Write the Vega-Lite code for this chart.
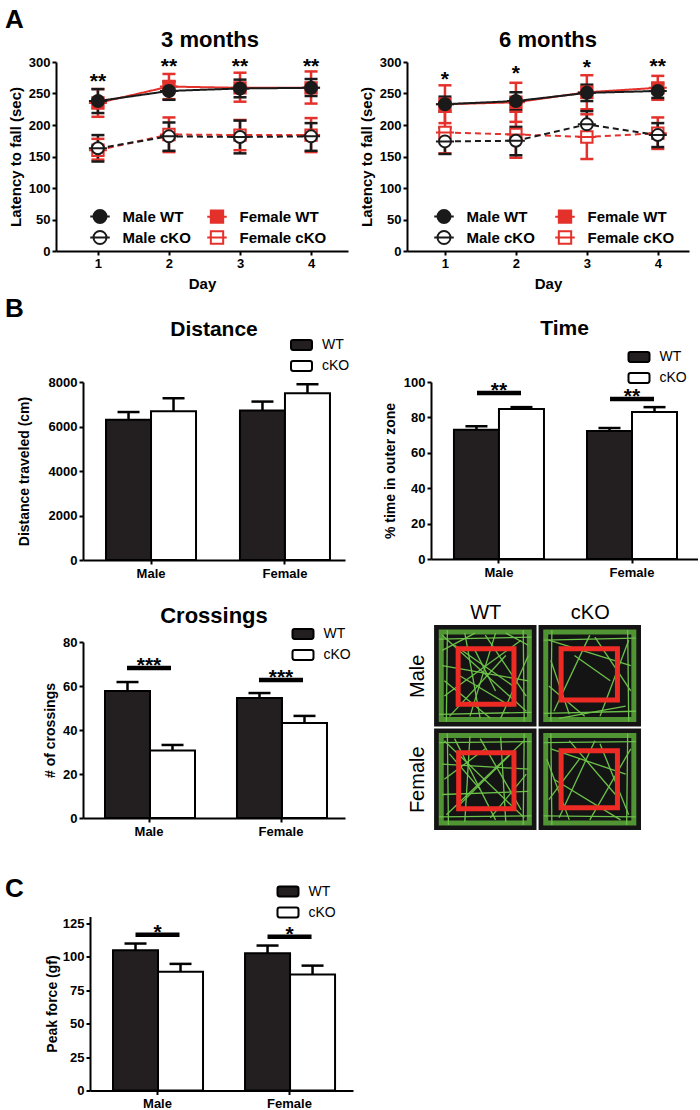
{
  "$schema": "https://vega.github.io/schema/vega-lite/v6.json",
  "padding": {"left": 5, "top": 6, "right": 0, "bottom": 0},
  "background": "white",
  "config": {
    "font": "Liberation Sans",
    "view": {"stroke": null},
    "axis": {"grid": false, "domainColor": "#000", "domainWidth": 2, "tickColor": "#000", "tickWidth": 2, "tickSize": 4, "tickCount": 20, "labelColor": "#000", "labelFont": "Liberation Sans", "labelFontWeight": "bold", "labelFontSize": 13, "labelPadding": 2, "titleColor": "#000", "titleFont": "Liberation Sans", "titleFontWeight": "bold", "titleFontSize": 14, "titlePadding": 6},
    "title": {"font": "Liberation Sans", "fontWeight": "bold", "color": "#000", "fontSize": 21},
    "legend": {"labelFont": "Liberation Sans", "labelColor": "#000"}
  },
  "datasets": {
    "rotarod": [
      {"age": "3 months", "group": "Female WT", "day": 1, "mean": 235, "lo": 213, "hi": 257},
      {"age": "3 months", "group": "Female WT", "day": 2, "mean": 261, "lo": 241, "hi": 281},
      {"age": "3 months", "group": "Female WT", "day": 3, "mean": 259, "lo": 237, "hi": 283},
      {"age": "3 months", "group": "Female WT", "day": 4, "mean": 259, "lo": 234, "hi": 285},
      {"age": "3 months", "group": "Female cKO", "day": 1, "mean": 160, "lo": 145, "hi": 178},
      {"age": "3 months", "group": "Female cKO", "day": 2, "mean": 185, "lo": 157, "hi": 212},
      {"age": "3 months", "group": "Female cKO", "day": 3, "mean": 184, "lo": 160, "hi": 208},
      {"age": "3 months", "group": "Female cKO", "day": 4, "mean": 184, "lo": 157, "hi": 211},
      {"age": "3 months", "group": "Male WT", "day": 1, "mean": 238, "lo": 219, "hi": 257},
      {"age": "3 months", "group": "Male WT", "day": 2, "mean": 254, "lo": 240, "hi": 269},
      {"age": "3 months", "group": "Male WT", "day": 3, "mean": 258, "lo": 244, "hi": 272},
      {"age": "3 months", "group": "Male WT", "day": 4, "mean": 259, "lo": 246, "hi": 273},
      {"age": "3 months", "group": "Male cKO", "day": 1, "mean": 163, "lo": 142, "hi": 184},
      {"age": "3 months", "group": "Male cKO", "day": 2, "mean": 182, "lo": 159, "hi": 204},
      {"age": "3 months", "group": "Male cKO", "day": 3, "mean": 181, "lo": 155, "hi": 207},
      {"age": "3 months", "group": "Male cKO", "day": 4, "mean": 182, "lo": 159, "hi": 203},
      {"age": "6 months", "group": "Female WT", "day": 1, "mean": 233, "lo": 203, "hi": 263},
      {"age": "6 months", "group": "Female WT", "day": 2, "mean": 236, "lo": 205, "hi": 267},
      {"age": "6 months", "group": "Female WT", "day": 3, "mean": 252, "lo": 225, "hi": 279},
      {"age": "6 months", "group": "Female WT", "day": 4, "mean": 259, "lo": 240, "hi": 278},
      {"age": "6 months", "group": "Female cKO", "day": 1, "mean": 188, "lo": 155, "hi": 221},
      {"age": "6 months", "group": "Female cKO", "day": 2, "mean": 185, "lo": 148, "hi": 221},
      {"age": "6 months", "group": "Female cKO", "day": 3, "mean": 181, "lo": 146, "hi": 217},
      {"age": "6 months", "group": "Female cKO", "day": 4, "mean": 187, "lo": 162, "hi": 212},
      {"age": "6 months", "group": "Male WT", "day": 1, "mean": 233, "lo": 221, "hi": 245},
      {"age": "6 months", "group": "Male WT", "day": 2, "mean": 238, "lo": 224, "hi": 252},
      {"age": "6 months", "group": "Male WT", "day": 3, "mean": 251, "lo": 238, "hi": 264},
      {"age": "6 months", "group": "Male WT", "day": 4, "mean": 254, "lo": 243, "hi": 266},
      {"age": "6 months", "group": "Male cKO", "day": 1, "mean": 174, "lo": 154, "hi": 196},
      {"age": "6 months", "group": "Male cKO", "day": 2, "mean": 175, "lo": 152, "hi": 197},
      {"age": "6 months", "group": "Male cKO", "day": 3, "mean": 201, "lo": 181, "hi": 222},
      {"age": "6 months", "group": "Male cKO", "day": 4, "mean": 184, "lo": 165, "hi": 203}
    ],
    "stars": [
      {"age": "3 months", "day": 1, "y": 277, "label": "**"},
      {"age": "3 months", "day": 2, "y": 301, "label": "**"},
      {"age": "3 months", "day": 3, "y": 301, "label": "**"},
      {"age": "3 months", "day": 4, "y": 301, "label": "**"},
      {"age": "6 months", "day": 1, "y": 281, "label": "*"},
      {"age": "6 months", "day": 2, "y": 290, "label": "*"},
      {"age": "6 months", "day": 3, "y": 300, "label": "*"},
      {"age": "6 months", "day": 4, "y": 302, "label": "**"}
    ],
    "dist": [
      {"sex": "Male", "genotype": "WT", "mean": 6300, "upper": 6650},
      {"sex": "Male", "genotype": "cKO", "mean": 6680, "upper": 7270},
      {"sex": "Female", "genotype": "WT", "mean": 6720, "upper": 7120},
      {"sex": "Female", "genotype": "cKO", "mean": 7500, "upper": 7900}
    ],
    "time": [
      {"sex": "Male", "genotype": "WT", "mean": 73, "upper": 75},
      {"sex": "Male", "genotype": "cKO", "mean": 84.8, "upper": 85.8},
      {"sex": "Female", "genotype": "WT", "mean": 72.3, "upper": 74},
      {"sex": "Female", "genotype": "cKO", "mean": 83, "upper": 85.8}
    ],
    "cross": [
      {"sex": "Male", "genotype": "WT", "mean": 57.7, "upper": 61.8},
      {"sex": "Male", "genotype": "cKO", "mean": 30.7, "upper": 33.2},
      {"sex": "Female", "genotype": "WT", "mean": 54.6, "upper": 56.8},
      {"sex": "Female", "genotype": "cKO", "mean": 43.2, "upper": 46.4}
    ],
    "peak": [
      {"sex": "Male", "genotype": "WT", "mean": 104.7, "upper": 109.8},
      {"sex": "Male", "genotype": "cKO", "mean": 88.8, "upper": 94.6},
      {"sex": "Female", "genotype": "WT", "mean": 102.6, "upper": 108.3},
      {"sex": "Female", "genotype": "cKO", "mean": 86.6, "upper": 93.3}
    ],
    "sig_time": [
      {"sex": "Male", "y": 93.8, "label": "**"},
      {"sex": "Female", "y": 90.4, "label": "**"}
    ],
    "sig_cross": [
      {"sex": "Male", "y": 68.2, "label": "***"},
      {"sex": "Female", "y": 62.7, "label": "***"}
    ],
    "sig_peak": [
      {"sex": "Male", "y": 116.4, "label": "*"},
      {"sex": "Female", "y": 114.9, "label": "*"}
    ],
    "cells": [
      {"x0": 0, "x1": 1, "y0": 0, "y1": 1},
      {"x0": 1.02, "x1": 2.02, "y0": 0, "y1": 1},
      {"x0": 0, "x1": 1, "y0": 1.02, "y1": 2.02},
      {"x0": 1.02, "x1": 2.02, "y0": 1.02, "y1": 2.02}
    ],
    "perim": [
      {"x0": 0.07, "x1": 0.93, "y0": 0.07, "y1": 0.93},
      {"x0": 1.09, "x1": 1.95, "y0": 0.07, "y1": 0.93},
      {"x0": 0.07, "x1": 0.93, "y0": 1.09, "y1": 1.95},
      {"x0": 1.09, "x1": 1.95, "y0": 1.09, "y1": 1.95}
    ],
    "zones": [
      {"x0": 0.235, "x1": 0.78, "y0": 0.235, "y1": 0.78},
      {"x0": 1.24, "x1": 1.79, "y0": 0.235, "y1": 0.74},
      {"x0": 0.24, "x1": 0.78, "y0": 1.26, "y1": 1.81},
      {"x0": 1.24, "x1": 1.79, "y0": 1.24, "y1": 1.8}
    ],
    "tracks": [
      {"x0": 0.08, "y0": 0.10, "x1": 0.90, "y1": 0.85},
      {"x0": 0.10, "y0": 0.70, "x1": 0.85, "y1": 0.15},
      {"x0": 0.30, "y0": 0.08, "x1": 0.45, "y1": 0.92},
      {"x0": 0.60, "y0": 0.08, "x1": 0.35, "y1": 0.90},
      {"x0": 0.08, "y0": 0.40, "x1": 0.92, "y1": 0.55},
      {"x0": 0.15, "y0": 0.90, "x1": 0.70, "y1": 0.30},
      {"x0": 0.20, "y0": 0.20, "x1": 0.80, "y1": 0.62},
      {"x0": 0.50, "y0": 0.10, "x1": 0.90, "y1": 0.70},
      {"x0": 0.10, "y0": 0.55, "x1": 0.55, "y1": 0.92},
      {"x0": 0.65, "y0": 0.92, "x1": 0.92, "y1": 0.30},
      {"x0": 0.25, "y0": 0.50, "x1": 0.75, "y1": 0.80},
      {"x0": 0.40, "y0": 0.25, "x1": 0.60, "y1": 0.65},
      {"x0": 0.08, "y0": 0.25, "x1": 0.40, "y1": 0.08},
      {"x0": 0.70, "y0": 0.08, "x1": 0.92, "y1": 0.20},
      {"x0": 0.05, "y0": 0.14, "x1": 0.95, "y1": 0.12},
      {"x0": 0.05, "y0": 0.88, "x1": 0.95, "y1": 0.86},
      {"x0": 0.13, "y0": 0.05, "x1": 0.12, "y1": 0.95},
      {"x0": 0.87, "y0": 0.05, "x1": 0.88, "y1": 0.95},
      {"x0": 1.12, "y0": 0.15, "x1": 1.92, "y1": 0.40},
      {"x0": 1.17, "y0": 0.85, "x1": 1.52, "y1": 0.10},
      {"x0": 1.62, "y0": 0.90, "x1": 1.90, "y1": 0.15},
      {"x0": 1.12, "y0": 0.60, "x1": 1.47, "y1": 0.90},
      {"x0": 1.37, "y0": 0.30, "x1": 1.72, "y1": 0.55},
      {"x0": 1.14, "y0": 0.35, "x1": 1.32, "y1": 0.88},
      {"x0": 1.57, "y0": 0.12, "x1": 1.92, "y1": 0.65},
      {"x0": 1.22, "y0": 0.92, "x1": 1.87, "y1": 0.80},
      {"x0": 1.07, "y0": 0.15, "x1": 1.97, "y1": 0.13},
      {"x0": 1.07, "y0": 0.87, "x1": 1.97, "y1": 0.85},
      {"x0": 1.15, "y0": 0.05, "x1": 1.14, "y1": 0.95},
      {"x0": 1.89, "y0": 0.05, "x1": 1.90, "y1": 0.95},
      {"x0": 0.10, "y0": 1.14, "x1": 0.88, "y1": 1.90},
      {"x0": 0.12, "y0": 1.87, "x1": 0.88, "y1": 1.14},
      {"x0": 0.35, "y0": 1.10, "x1": 0.30, "y1": 1.94},
      {"x0": 0.65, "y0": 1.10, "x1": 0.70, "y1": 1.94},
      {"x0": 0.08, "y0": 1.37, "x1": 0.92, "y1": 1.42},
      {"x0": 0.08, "y0": 1.67, "x1": 0.92, "y1": 1.64},
      {"x0": 0.20, "y0": 1.12, "x1": 0.60, "y1": 1.92},
      {"x0": 0.45, "y0": 1.12, "x1": 0.85, "y1": 1.82},
      {"x0": 0.10, "y0": 1.52, "x1": 0.50, "y1": 1.22},
      {"x0": 0.55, "y0": 1.90, "x1": 0.90, "y1": 1.47},
      {"x0": 0.25, "y0": 1.77, "x1": 0.75, "y1": 1.27},
      {"x0": 0.15, "y0": 1.27, "x1": 0.45, "y1": 1.62},
      {"x0": 0.05, "y0": 1.16, "x1": 0.95, "y1": 1.15},
      {"x0": 0.05, "y0": 1.89, "x1": 0.95, "y1": 1.88},
      {"x0": 0.13, "y0": 1.07, "x1": 0.14, "y1": 1.97},
      {"x0": 0.88, "y0": 1.07, "x1": 0.87, "y1": 1.97},
      {"x0": 1.14, "y0": 1.22, "x1": 1.87, "y1": 1.47},
      {"x0": 1.22, "y0": 1.90, "x1": 1.57, "y1": 1.14},
      {"x0": 1.52, "y0": 1.92, "x1": 1.92, "y1": 1.22},
      {"x0": 1.12, "y0": 1.72, "x1": 1.42, "y1": 1.32},
      {"x0": 1.62, "y0": 1.17, "x1": 1.90, "y1": 1.87},
      {"x0": 1.17, "y0": 1.52, "x1": 1.82, "y1": 1.92},
      {"x0": 1.32, "y0": 1.14, "x1": 1.77, "y1": 1.67},
      {"x0": 1.10, "y0": 1.32, "x1": 1.32, "y1": 1.92},
      {"x0": 1.07, "y0": 1.16, "x1": 1.97, "y1": 1.15},
      {"x0": 1.07, "y0": 1.88, "x1": 1.97, "y1": 1.89},
      {"x0": 1.14, "y0": 1.07, "x1": 1.15, "y1": 1.97},
      {"x0": 1.89, "y0": 1.07, "x1": 1.88, "y1": 1.97}
    ]
  },
  "spacing": 37.5,
  "resolve": {"scale": {"color": "independent", "fill": "independent", "stroke": "independent", "shape": "independent", "strokeDash": "independent"}, "legend": {"color": "independent", "fill": "independent", "stroke": "independent", "shape": "independent", "strokeDash": "independent"}},
  "vconcat": [
    {
      "spacing": 4,
      "resolve": {"scale": {"color": "independent", "fill": "independent", "stroke": "independent", "shape": "independent", "strokeDash": "independent"}, "legend": {"color": "independent", "fill": "independent", "stroke": "independent", "shape": "independent", "strokeDash": "independent"}},
      "vconcat": [
        {
          "spacing": -16,
          "resolve": {"scale": {"color": "independent", "fill": "independent", "stroke": "independent", "shape": "independent", "strokeDash": "independent"}, "legend": {"color": "independent", "fill": "independent", "stroke": "independent", "shape": "independent", "strokeDash": "independent"}},
          "hconcat": [
            {
              "width": 1, "height": 1,
              "title": {"text": "A", "anchor": "start", "fontSize": 26, "offset": 29.5},
              "data": {"values": []},
              "mark": "point"
            },
            {
              "spacing": 11,
              "resolve": {"scale": {"color": "independent", "fill": "independent", "stroke": "independent", "shape": "independent", "strokeDash": "independent"}, "legend": {"color": "independent", "fill": "independent", "stroke": "independent", "shape": "independent", "strokeDash": "independent"}},
              "hconcat": [
                {
                  "width": 292, "height": 189,
                  "title": {"text": "3 months", "fontSize": 22, "offset": 4, "dx": 8},
                  "layer": [
                    {
                      "data": {"name": "rotarod"}, "transform": [{"filter": "datum.age == '3 months'"}],
                      "mark": {"type": "rule", "strokeWidth": 2.5},
                      "encoding": {
                        "x": {"field": "day", "type": "quantitative", "scale": {"domain": [0.41, 4.52], "nice": false, "zero": false}, "axis": {"values": [1, 2, 3, 4], "format": "d", "title": "Day", "titleFontSize": 15}},
                        "y": {"field": "lo", "type": "quantitative", "scale": {"domain": [0, 300], "nice": false}, "axis": {"values": [0, 50, 100, 150, 200, 250, 300], "format": "d", "title": "Latency to fall (sec)", "titleFontSize": 15, "titlePadding": 5}},
                        "y2": {"field": "hi"},
                        "color": {"field": "group", "type": "nominal", "scale": {"domain": ["Female WT", "Male WT", "Female cKO", "Male cKO"], "range": ["#e4312b", "#1a1a1a", "#e4312b", "#1a1a1a"]}, "legend": null}
                      }
                    },
                    {
                      "data": {"name": "rotarod"}, "transform": [{"filter": "datum.age == '3 months'"}],
                      "mark": {"type": "point", "shape": "M-1,0L1,0", "size": 169, "strokeWidth": 2.5, "opacity": 1, "filled": false},
                      "encoding": {
                        "x": {"field": "day", "type": "quantitative"},
                        "y": {"field": "lo", "type": "quantitative"},
                        "color": {"field": "group", "type": "nominal", "legend": null}
                      }
                    },
                    {
                      "data": {"name": "rotarod"}, "transform": [{"filter": "datum.age == '3 months'"}],
                      "mark": {"type": "point", "shape": "M-1,0L1,0", "size": 169, "strokeWidth": 2.5, "opacity": 1, "filled": false},
                      "encoding": {
                        "x": {"field": "day", "type": "quantitative"},
                        "y": {"field": "hi", "type": "quantitative"},
                        "color": {"field": "group", "type": "nominal", "legend": null}
                      }
                    },
                    {
                      "data": {"name": "rotarod"}, "transform": [{"filter": "datum.age == '3 months'"}],
                      "mark": {"type": "line", "strokeWidth": 2},
                      "encoding": {
                        "x": {"field": "day", "type": "quantitative"},
                        "y": {"field": "mean", "type": "quantitative"},
                        "color": {"field": "group", "type": "nominal", "legend": null},
                        "strokeDash": {"field": "group", "type": "nominal", "scale": {"domain": ["Female WT", "Male WT", "Female cKO", "Male cKO"], "range": [[1, 0], [1, 0], [6, 4], [6, 4]]}, "legend": null}
                      }
                    },
                    {
                      "data": {"name": "rotarod"}, "transform": [{"filter": "datum.age == '3 months'"}],
                      "mark": {"type": "point", "size": 144, "strokeWidth": 2, "opacity": 1},
                      "encoding": {
                        "x": {"field": "day", "type": "quantitative"},
                        "y": {"field": "mean", "type": "quantitative"},
                        "stroke": {"field": "group", "type": "nominal", "scale": {"domain": ["Male WT", "Male cKO", "Female WT", "Female cKO"], "range": ["#1a1a1a", "#1a1a1a", "#e4312b", "#e4312b"]}, "legend": {"orient": "none", "legendX": 36.5, "legendY": 147, "title": null, "columns": 2, "columnPadding": 11, "rowPadding": 0, "symbolSize": 169, "symbolStrokeWidth": 2, "labelFontSize": 15, "labelFontWeight": "bold", "labelOffset": 15}},
                        "fill": {"field": "group", "type": "nominal", "scale": {"domain": ["Male WT", "Male cKO", "Female WT", "Female cKO"], "range": ["#1a1a1a", "#ffffff", "#e4312b", "#ffffff"]}, "legend": {"orient": "none", "legendX": 36.5, "legendY": 147, "title": null, "columns": 2, "columnPadding": 11, "rowPadding": 0, "symbolSize": 169, "symbolStrokeWidth": 2, "labelFontSize": 15, "labelFontWeight": "bold", "labelOffset": 15}},
                        "shape": {"field": "group", "type": "nominal", "scale": {"domain": ["Male WT", "Male cKO", "Female WT", "Female cKO"], "range": ["M-1.5,0L1.5,0M1,0A1,1,0,1,1,-1,0A1,1,0,1,1,1,0Z", "M-1.5,0L1.5,0M1,0A1,1,0,1,1,-1,0A1,1,0,1,1,1,0Z", "M-1.5,0L1.5,0M-0.95,-0.95L0.95,-0.95L0.95,0.95L-0.95,0.95Z", "M-1.5,0L1.5,0M-0.95,-0.95L0.95,-0.95L0.95,0.95L-0.95,0.95Z"]}, "legend": {"orient": "none", "legendX": 36.5, "legendY": 147, "title": null, "columns": 2, "columnPadding": 11, "rowPadding": 0, "symbolSize": 169, "symbolStrokeWidth": 2, "labelFontSize": 15, "labelFontWeight": "bold", "labelOffset": 15}}
                      }
                    },
                    {
                      "data": {"name": "stars"}, "transform": [{"filter": "datum.age == '3 months'"}],
                      "mark": {"type": "text", "fontSize": 21, "fontWeight": "bold", "dy": 12, "baseline": "alphabetic", "color": "#000"},
                      "encoding": {
                        "x": {"field": "day", "type": "quantitative"},
                        "y": {"field": "y", "type": "quantitative"},
                        "text": {"field": "label"}
                      }
                    }
                  ]
                },
                {
                  "width": 282, "height": 189,
                  "title": {"text": "6 months", "fontSize": 22, "offset": 4},
                  "layer": [
                    {
                      "data": {"name": "rotarod"}, "transform": [{"filter": "datum.age == '6 months'"}],
                      "mark": {"type": "rule", "strokeWidth": 2.5},
                      "encoding": {
                        "x": {"field": "day", "type": "quantitative", "scale": {"domain": [0.465, 4.44], "nice": false, "zero": false}, "axis": {"values": [1, 2, 3, 4], "format": "d", "title": "Day", "titleFontSize": 15}},
                        "y": {"field": "lo", "type": "quantitative", "scale": {"domain": [0, 300], "nice": false}, "axis": {"values": [0, 50, 100, 150, 200, 250, 300], "format": "d", "title": "Latency to fall (sec)", "titleFontSize": 15, "titlePadding": 5}},
                        "y2": {"field": "hi"},
                        "color": {"field": "group", "type": "nominal", "scale": {"domain": ["Female WT", "Male WT", "Female cKO", "Male cKO"], "range": ["#e4312b", "#1a1a1a", "#e4312b", "#1a1a1a"]}, "legend": null}
                      }
                    },
                    {
                      "data": {"name": "rotarod"}, "transform": [{"filter": "datum.age == '6 months'"}],
                      "mark": {"type": "point", "shape": "M-1,0L1,0", "size": 169, "strokeWidth": 2.5, "opacity": 1, "filled": false},
                      "encoding": {
                        "x": {"field": "day", "type": "quantitative"},
                        "y": {"field": "lo", "type": "quantitative"},
                        "color": {"field": "group", "type": "nominal", "legend": null}
                      }
                    },
                    {
                      "data": {"name": "rotarod"}, "transform": [{"filter": "datum.age == '6 months'"}],
                      "mark": {"type": "point", "shape": "M-1,0L1,0", "size": 169, "strokeWidth": 2.5, "opacity": 1, "filled": false},
                      "encoding": {
                        "x": {"field": "day", "type": "quantitative"},
                        "y": {"field": "hi", "type": "quantitative"},
                        "color": {"field": "group", "type": "nominal", "legend": null}
                      }
                    },
                    {
                      "data": {"name": "rotarod"}, "transform": [{"filter": "datum.age == '6 months'"}],
                      "mark": {"type": "line", "strokeWidth": 2},
                      "encoding": {
                        "x": {"field": "day", "type": "quantitative"},
                        "y": {"field": "mean", "type": "quantitative"},
                        "color": {"field": "group", "type": "nominal", "legend": null},
                        "strokeDash": {"field": "group", "type": "nominal", "scale": {"domain": ["Female WT", "Male WT", "Female cKO", "Male cKO"], "range": [[1, 0], [1, 0], [6, 4], [6, 4]]}, "legend": null}
                      }
                    },
                    {
                      "data": {"name": "rotarod"}, "transform": [{"filter": "datum.age == '6 months'"}],
                      "mark": {"type": "point", "size": 144, "strokeWidth": 2, "opacity": 1},
                      "encoding": {
                        "x": {"field": "day", "type": "quantitative"},
                        "y": {"field": "mean", "type": "quantitative"},
                        "stroke": {"field": "group", "type": "nominal", "scale": {"domain": ["Male WT", "Male cKO", "Female WT", "Female cKO"], "range": ["#1a1a1a", "#1a1a1a", "#e4312b", "#e4312b"]}, "legend": {"orient": "none", "legendX": 29.5, "legendY": 147, "title": null, "columns": 2, "columnPadding": 15, "rowPadding": 0, "symbolSize": 169, "symbolStrokeWidth": 2, "labelFontSize": 15, "labelFontWeight": "bold", "labelOffset": 15}},
                        "fill": {"field": "group", "type": "nominal", "scale": {"domain": ["Male WT", "Male cKO", "Female WT", "Female cKO"], "range": ["#1a1a1a", "#ffffff", "#e4312b", "#ffffff"]}, "legend": {"orient": "none", "legendX": 29.5, "legendY": 147, "title": null, "columns": 2, "columnPadding": 15, "rowPadding": 0, "symbolSize": 169, "symbolStrokeWidth": 2, "labelFontSize": 15, "labelFontWeight": "bold", "labelOffset": 15}},
                        "shape": {"field": "group", "type": "nominal", "scale": {"domain": ["Male WT", "Male cKO", "Female WT", "Female cKO"], "range": ["M-1.5,0L1.5,0M1,0A1,1,0,1,1,-1,0A1,1,0,1,1,1,0Z", "M-1.5,0L1.5,0M1,0A1,1,0,1,1,-1,0A1,1,0,1,1,1,0Z", "M-1.5,0L1.5,0M-0.95,-0.95L0.95,-0.95L0.95,0.95L-0.95,0.95Z", "M-1.5,0L1.5,0M-0.95,-0.95L0.95,-0.95L0.95,0.95L-0.95,0.95Z"]}, "legend": {"orient": "none", "legendX": 29.5, "legendY": 147, "title": null, "columns": 2, "columnPadding": 15, "rowPadding": 0, "symbolSize": 169, "symbolStrokeWidth": 2, "labelFontSize": 15, "labelFontWeight": "bold", "labelOffset": 15}}
                      }
                    },
                    {
                      "data": {"name": "stars"}, "transform": [{"filter": "datum.age == '6 months'"}],
                      "mark": {"type": "text", "fontSize": 21, "fontWeight": "bold", "dy": 12, "baseline": "alphabetic", "color": "#000"},
                      "encoding": {
                        "x": {"field": "day", "type": "quantitative"},
                        "y": {"field": "y", "type": "quantitative"},
                        "text": {"field": "label"}
                      }
                    }
                  ]
                }
              ]
            }
          ]
        },
        {
          "spacing": -7,
          "resolve": {"scale": {"color": "independent", "fill": "independent", "stroke": "independent", "shape": "independent", "strokeDash": "independent"}, "legend": {"color": "independent", "fill": "independent", "stroke": "independent", "shape": "independent", "strokeDash": "independent"}},
          "hconcat": [
            {
              "width": 1, "height": 1,
              "title": {"text": "B", "anchor": "start", "fontSize": 26, "offset": 60.5},
              "data": {"values": []},
              "mark": "point"
            },
            {
              "spacing": 31,
              "resolve": {"scale": {"color": "independent", "fill": "independent", "stroke": "independent", "shape": "independent", "strokeDash": "independent"}, "legend": {"color": "independent", "fill": "independent", "stroke": "independent", "shape": "independent", "strokeDash": "independent"}},
              "hconcat": [
                {
                  "spacing": 24,
                  "resolve": {"scale": {"color": "independent", "fill": "independent", "stroke": "independent", "shape": "independent", "strokeDash": "independent"}, "legend": {"color": "independent", "fill": "independent", "stroke": "independent", "shape": "independent", "strokeDash": "independent"}},
                  "vconcat": [
                    {
                      "width": 262, "height": 178,
                      "title": {"text": "Distance", "offset": -6.5},
                      "data": {"name": "dist"},
                      "encoding": {
                        "x": {"field": "sex", "type": "nominal", "sort": ["Male", "Female"], "scale": {"paddingInner": 0.328, "paddingOuter": 0.142, "align": 0.605}, "axis": {"title": null, "labelAngle": 0, "labelPadding": 3}}
                      },
                      "layer": [
                        {
                          "mark": {"type": "rule", "strokeWidth": 2.5, "color": "#000"},
                          "encoding": {
                            "xOffset": {"field": "genotype", "type": "nominal", "sort": ["WT", "cKO"], "scale": {"paddingInner": 0, "paddingOuter": 0}},
                            "y": {"field": "mean", "type": "quantitative"},
                            "y2": {"field": "upper"}
                          }
                        },
                        {
                          "mark": {"type": "point", "shape": "M-1,0L1,0", "size": 484, "stroke": "#000", "strokeWidth": 2.5, "filled": false, "opacity": 1},
                          "encoding": {
                            "xOffset": {"field": "genotype", "type": "nominal", "sort": ["WT", "cKO"]},
                            "y": {"field": "upper", "type": "quantitative"}
                          }
                        },
                        {
                          "mark": {"type": "bar", "stroke": "#000", "strokeWidth": 2},
                          "encoding": {
                            "xOffset": {"field": "genotype", "type": "nominal", "sort": ["WT", "cKO"]},
                            "y": {"field": "mean", "type": "quantitative", "scale": {"domain": [0, 8000]}, "axis": {"values": [0, 2000, 4000, 6000, 8000], "format": "d", "title": "Distance traveled (cm)", "titlePadding": 17}},
                            "fill": {"field": "genotype", "type": "nominal", "scale": {"domain": ["WT", "cKO"], "range": ["#231f20", "#ffffff"]}, "legend": {"orient": "none", "legendX": 207, "legendY": -48.5, "title": null, "symbolType": "M-0.8,-0.47L0.8,-0.47Q1,-0.47,1,-0.27L1,0.27Q1,0.47,0.8,0.47L-0.8,0.47Q-1,0.47,-1,0.27L-1,-0.27Q-1,-0.47,-0.8,-0.47Z", "symbolSize": 441, "symbolStrokeColor": "#000", "symbolStrokeWidth": 2, "labelFontSize": 14, "labelFontWeight": "normal", "labelOffset": 9, "rowPadding": -3}}
                          }
                        }
                      ]
                    },
                    {
                      "width": 262, "height": 176,
                      "title": {"text": "Crossings", "fontSize": 22, "offset": -5},
                      "encoding": {
                        "x": {"field": "sex", "type": "nominal", "sort": ["Male", "Female"], "scale": {"paddingInner": 0.333, "paddingOuter": 0.159, "align": 0.524}, "axis": {"title": null, "labelAngle": 0, "labelPadding": 3}}
                      },
                      "layer": [
                        {
                          "data": {"name": "cross"},
                          "mark": {"type": "rule", "strokeWidth": 2.5, "color": "#000"},
                          "encoding": {
                            "xOffset": {"field": "genotype", "type": "nominal", "sort": ["WT", "cKO"], "scale": {"paddingInner": 0, "paddingOuter": 0}},
                            "y": {"field": "mean", "type": "quantitative"},
                            "y2": {"field": "upper"}
                          }
                        },
                        {
                          "data": {"name": "cross"},
                          "mark": {"type": "point", "shape": "M-1,0L1,0", "size": 484, "stroke": "#000", "strokeWidth": 2.5, "filled": false, "opacity": 1},
                          "encoding": {
                            "xOffset": {"field": "genotype", "type": "nominal", "sort": ["WT", "cKO"]},
                            "y": {"field": "upper", "type": "quantitative"}
                          }
                        },
                        {
                          "data": {"name": "cross"},
                          "mark": {"type": "bar", "stroke": "#000", "strokeWidth": 2},
                          "encoding": {
                            "xOffset": {"field": "genotype", "type": "nominal", "sort": ["WT", "cKO"]},
                            "y": {"field": "mean", "type": "quantitative", "scale": {"domain": [0, 80]}, "axis": {"values": [0, 20, 40, 60, 80], "format": "d", "title": "# of crossings", "titlePadding": 5}},
                            "fill": {"field": "genotype", "type": "nominal", "scale": {"domain": ["WT", "cKO"], "range": ["#231f20", "#ffffff"]}, "legend": {"orient": "none", "legendX": 208.5, "legendY": -19.5, "title": null, "symbolType": "M-0.8,-0.47L0.8,-0.47Q1,-0.47,1,-0.27L1,0.27Q1,0.47,0.8,0.47L-0.8,0.47Q-1,0.47,-1,0.27L-1,-0.27Q-1,-0.47,-0.8,-0.47Z", "symbolSize": 441, "symbolStrokeColor": "#000", "symbolStrokeWidth": 2, "labelFontSize": 14, "labelFontWeight": "normal", "labelOffset": 9, "rowPadding": -1}}
                          }
                        },
                        {
                          "data": {"name": "sig_cross"},
                          "mark": {"type": "point", "shape": "M-1,0L1,0", "size": 1936, "stroke": "#000", "strokeWidth": 4.5, "filled": false, "opacity": 1},
                          "encoding": {"y": {"field": "y", "type": "quantitative"}}
                        },
                        {
                          "data": {"name": "sig_cross"},
                          "mark": {"type": "text", "fontSize": 21, "fontWeight": "bold", "dy": 4, "baseline": "alphabetic", "color": "#000"},
                          "encoding": {"y": {"field": "y", "type": "quantitative"}, "text": {"field": "label"}}
                        }
                      ]
                    }
                  ]
                },
                {
                  "spacing": 23,
                  "resolve": {"scale": {"color": "independent", "fill": "independent", "stroke": "independent", "shape": "independent", "strokeDash": "independent"}, "legend": {"color": "independent", "fill": "independent", "stroke": "independent", "shape": "independent", "strokeDash": "independent"}},
                  "vconcat": [
                    {
                      "width": 267, "height": 177,
                      "title": {"text": "Time", "offset": 6.5},
                      "encoding": {
                        "x": {"field": "sex", "type": "nominal", "sort": ["Male", "Female"], "scale": {"paddingInner": 0.323, "paddingOuter": 0.165, "align": 0.523}, "axis": {"title": null, "labelAngle": 0, "labelPadding": 3}}
                      },
                      "layer": [
                        {
                          "data": {"name": "time"},
                          "mark": {"type": "rule", "strokeWidth": 2.5, "color": "#000"},
                          "encoding": {
                            "xOffset": {"field": "genotype", "type": "nominal", "sort": ["WT", "cKO"], "scale": {"paddingInner": 0, "paddingOuter": 0}},
                            "y": {"field": "mean", "type": "quantitative"},
                            "y2": {"field": "upper"}
                          }
                        },
                        {
                          "data": {"name": "time"},
                          "mark": {"type": "point", "shape": "M-1,0L1,0", "size": 484, "stroke": "#000", "strokeWidth": 2.5, "filled": false, "opacity": 1},
                          "encoding": {
                            "xOffset": {"field": "genotype", "type": "nominal", "sort": ["WT", "cKO"]},
                            "y": {"field": "upper", "type": "quantitative"}
                          }
                        },
                        {
                          "data": {"name": "time"},
                          "mark": {"type": "bar", "stroke": "#000", "strokeWidth": 2},
                          "encoding": {
                            "xOffset": {"field": "genotype", "type": "nominal", "sort": ["WT", "cKO"]},
                            "y": {"field": "mean", "type": "quantitative", "scale": {"domain": [0, 100]}, "axis": {"values": [0, 20, 40, 60, 80, 100], "format": "d", "title": "% time in outer zone", "titlePadding": 6}},
                            "fill": {"field": "genotype", "type": "nominal", "scale": {"domain": ["WT", "cKO"], "range": ["#231f20", "#ffffff"]}, "legend": {"orient": "none", "legendX": 196.5, "legendY": -36.5, "title": null, "symbolType": "M-0.8,-0.47L0.8,-0.47Q1,-0.47,1,-0.27L1,0.27Q1,0.47,0.8,0.47L-0.8,0.47Q-1,0.47,-1,0.27L-1,-0.27Q-1,-0.47,-0.8,-0.47Z", "symbolSize": 441, "symbolStrokeColor": "#000", "symbolStrokeWidth": 2, "labelFontSize": 14, "labelFontWeight": "normal", "labelOffset": 9, "rowPadding": -3}}
                          }
                        },
                        {
                          "data": {"name": "sig_time"},
                          "mark": {"type": "point", "shape": "M-1,0L1,0", "size": 1936, "stroke": "#000", "strokeWidth": 4.5, "filled": false, "opacity": 1},
                          "encoding": {"y": {"field": "y", "type": "quantitative"}}
                        },
                        {
                          "data": {"name": "sig_time"},
                          "mark": {"type": "text", "fontSize": 21, "fontWeight": "bold", "dy": 4, "baseline": "alphabetic", "color": "#000"},
                          "encoding": {"y": {"field": "y", "type": "quantitative"}, "text": {"field": "label"}}
                        }
                      ]
                    },
                    {
                      "width": 210, "height": 205,
                      "layer": [
                        {
                          "data": {"name": "cells"},
                          "mark": {"type": "rect", "fill": "#141414"},
                          "encoding": {
                            "x": {"field": "x0", "type": "quantitative", "scale": {"domain": [-0.03, 2.02], "nice": false, "zero": false}, "axis": {"orient": "top", "values": [0.5, 1.52], "labelExpr": "datum.value < 1 ? 'WT' : 'cKO'", "domain": false, "ticks": false, "title": null, "labelFontSize": 20, "labelFontWeight": "normal", "labelPadding": 3}},
                            "x2": {"field": "x1"},
                            "y": {"field": "y0", "type": "quantitative", "scale": {"domain": [0, 2.02], "nice": false, "zero": false, "reverse": true}, "axis": {"values": [0.5, 1.52], "labelExpr": "datum.value < 1 ? 'Male' : 'Female'", "labelAngle": -90, "labelAlign": "center", "labelBaseline": "bottom", "domain": false, "ticks": false, "title": null, "labelFontSize": 20, "labelFontWeight": "normal", "labelPadding": 4}},
                            "y2": {"field": "y1"}
                          }
                        },
                        {
                          "data": {"name": "perim"},
                          "mark": {"type": "rect", "fill": "transparent", "stroke": "#5fb43c", "strokeWidth": 5, "strokeOpacity": 0.8},
                          "encoding": {
                            "x": {"field": "x0", "type": "quantitative"},
                            "x2": {"field": "x1"},
                            "y": {"field": "y0", "type": "quantitative"},
                            "y2": {"field": "y1"}
                          }
                        },
                        {
                          "data": {"name": "tracks"},
                          "mark": {"type": "rule", "color": "#6dc249", "strokeWidth": 1.3},
                          "encoding": {
                            "x": {"field": "x0", "type": "quantitative"},
                            "x2": {"field": "x1"},
                            "y": {"field": "y0", "type": "quantitative"},
                            "y2": {"field": "y1"}
                          }
                        },
                        {
                          "data": {"name": "zones"},
                          "mark": {"type": "rect", "fill": "transparent", "stroke": "#ee2a24", "strokeWidth": 5},
                          "encoding": {
                            "x": {"field": "x0", "type": "quantitative"},
                            "x2": {"field": "x1"},
                            "y": {"field": "y0", "type": "quantitative"},
                            "y2": {"field": "y1"}
                          }
                        }
                      ]
                    }
                  ]
                }
              ]
            }
          ]
        }
      ]
    },
    {
      "spacing": 21,
      "resolve": {"scale": {"color": "independent", "fill": "independent", "stroke": "independent", "shape": "independent", "strokeDash": "independent"}, "legend": {"color": "independent", "fill": "independent", "stroke": "independent", "shape": "independent", "strokeDash": "independent"}},
      "hconcat": [
        {
          "width": 1, "height": 1,
          "title": {"text": "C", "anchor": "start", "fontSize": 26, "offset": 14.5},
          "data": {"values": []},
          "mark": "point"
        },
        {
          "width": 263, "height": 174,
          "encoding": {
            "x": {"field": "sex", "type": "nominal", "sort": ["Male", "Female"], "scale": {"paddingInner": 0.326, "paddingOuter": 0.159, "align": 0.548}, "axis": {"title": null, "labelAngle": 0, "labelPadding": 3}}
          },
          "layer": [
            {
              "data": {"name": "peak"},
              "mark": {"type": "rule", "strokeWidth": 2.5, "color": "#000"},
              "encoding": {
                "xOffset": {"field": "genotype", "type": "nominal", "sort": ["WT", "cKO"], "scale": {"paddingInner": 0, "paddingOuter": 0}},
                "y": {"field": "mean", "type": "quantitative"},
                "y2": {"field": "upper"}
              }
            },
            {
              "data": {"name": "peak"},
              "mark": {"type": "point", "shape": "M-1,0L1,0", "size": 484, "stroke": "#000", "strokeWidth": 2.5, "filled": false, "opacity": 1},
              "encoding": {
                "xOffset": {"field": "genotype", "type": "nominal", "sort": ["WT", "cKO"]},
                "y": {"field": "upper", "type": "quantitative"}
              }
            },
            {
              "data": {"name": "peak"},
              "mark": {"type": "bar", "stroke": "#000", "strokeWidth": 2},
              "encoding": {
                "xOffset": {"field": "genotype", "type": "nominal", "sort": ["WT", "cKO"]},
                "y": {"field": "mean", "type": "quantitative", "scale": {"domain": [0, 125]}, "axis": {"values": [0, 25, 50, 75, 100, 125], "format": "d", "title": "Peak force (gf)", "titlePadding": 3}},
                "fill": {"field": "genotype", "type": "nominal", "scale": {"domain": ["WT", "cKO"], "range": ["#231f20", "#ffffff"]}, "legend": {"orient": "none", "legendX": 186.5, "legendY": -36.5, "title": null, "symbolType": "M-0.8,-0.47L0.8,-0.47Q1,-0.47,1,-0.27L1,0.27Q1,0.47,0.8,0.47L-0.8,0.47Q-1,0.47,-1,0.27L-1,-0.27Q-1,-0.47,-0.8,-0.47Z", "symbolSize": 441, "symbolStrokeColor": "#000", "symbolStrokeWidth": 2, "labelFontSize": 14, "labelFontWeight": "normal", "labelOffset": 9, "rowPadding": -3}}
              }
            },
            {
              "data": {"name": "sig_peak"},
              "mark": {"type": "point", "shape": "M-1,0L1,0", "size": 1936, "stroke": "#000", "strokeWidth": 4.5, "filled": false, "opacity": 1},
              "encoding": {"y": {"field": "y", "type": "quantitative"}}
            },
            {
              "data": {"name": "sig_peak"},
              "mark": {"type": "text", "fontSize": 21, "fontWeight": "bold", "dy": 4, "baseline": "alphabetic", "color": "#000"},
              "encoding": {"y": {"field": "y", "type": "quantitative"}, "text": {"field": "label"}}
            }
          ]
        }
      ]
    }
  ]
}
